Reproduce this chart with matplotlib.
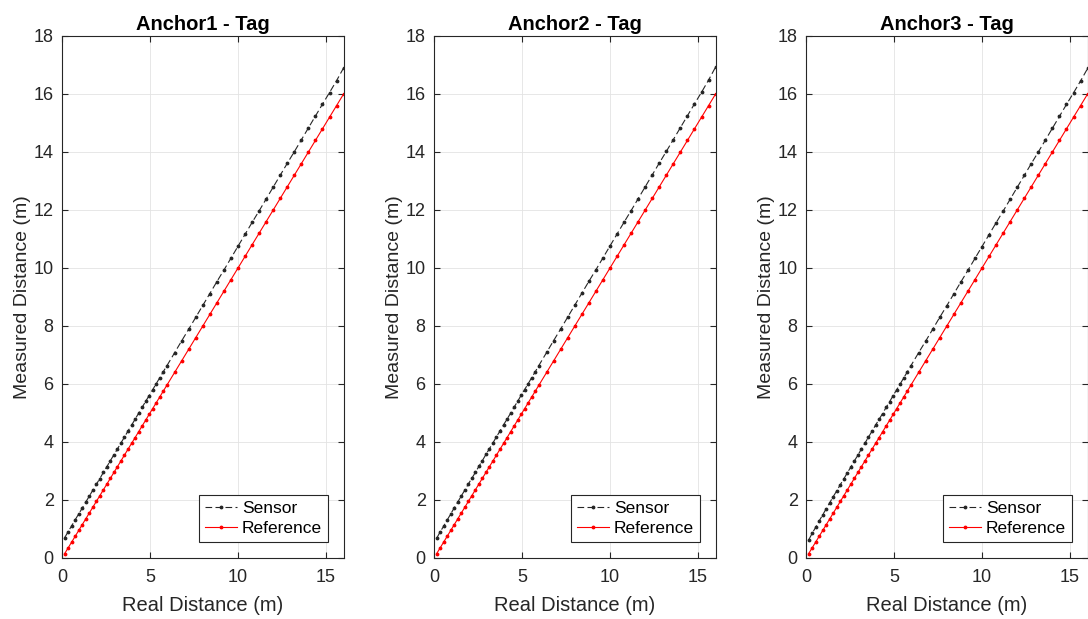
import matplotlib.pyplot as plt

plt.rcParams['font.family'] = ['Liberation Sans', 'DejaVu Sans']

# real distance (m) - dense steps up to ~6 m, then 0.4 m steps
real = [0.15, 0.35, 0.55, 0.75, 0.95, 1.15, 1.35, 1.55, 1.75, 1.95,
        2.15, 2.35, 2.55, 2.75, 2.95, 3.15, 3.35, 3.55, 3.75, 3.95,
        4.15, 4.35, 4.55, 4.75, 4.95, 5.15, 5.35, 5.55, 5.75, 5.95,
        6.4, 6.8, 7.2, 7.6, 8.0, 8.4, 8.8, 9.2, 9.6, 10.0,
        10.4, 10.8, 11.2, 11.6, 12.0, 12.4, 12.8, 13.2, 13.6, 14.0,
        14.4, 14.8, 15.2, 15.6, 16.0]

reference = list(real)

sensor1 = [0.70, 0.91, 1.11, 1.32, 1.52, 1.72, 1.93, 2.13, 2.34, 2.54,
           2.74, 2.95, 3.15, 3.36, 3.56, 3.76, 3.97, 4.17, 4.38, 4.58,
           4.78, 4.99, 5.19, 5.40, 5.60, 5.80, 6.01, 6.21, 6.42, 6.62,
           7.08, 7.49, 7.89, 8.30, 8.71, 9.12, 9.53, 9.93, 10.34, 10.75,
           11.16, 11.57, 11.97, 12.38, 12.79, 13.20, 13.61, 14.01, 14.42, 14.83,
           15.24, 15.65, 16.05, 16.46, 16.90]
sensor2 = [0.68, 0.90, 1.10, 1.31, 1.52, 1.73, 1.93, 2.14, 2.34, 2.55,
           2.75, 2.95, 3.16, 3.36, 3.57, 3.77, 3.97, 4.18, 4.38, 4.59,
           4.79, 4.99, 5.20, 5.40, 5.61, 5.81, 6.01, 6.22, 6.42, 6.63,
           7.09, 7.50, 7.90, 8.31, 8.72, 9.13, 9.54, 9.94, 10.35, 10.76,
           11.17, 11.58, 11.98, 12.39, 12.80, 13.21, 13.62, 14.02, 14.43, 14.84,
           15.25, 15.66, 16.06, 16.48, 16.93]
sensor3 = [0.62, 0.85, 1.06, 1.28, 1.49, 1.70, 1.91, 2.12, 2.32, 2.53,
           2.73, 2.94, 3.14, 3.35, 3.55, 3.76, 3.96, 4.17, 4.37, 4.58,
           4.78, 4.98, 5.19, 5.39, 5.60, 5.80, 6.00, 6.21, 6.41, 6.62,
           7.08, 7.48, 7.89, 8.30, 8.70, 9.11, 9.52, 9.92, 10.33, 10.74,
           11.15, 11.56, 11.96, 12.37, 12.78, 13.19, 13.60, 14.00, 14.41, 14.82,
           15.23, 15.64, 16.04, 16.45, 16.88]

titles = ['Anchor1 - Tag', 'Anchor2 - Tag', 'Anchor3 - Tag']
sensors = [sensor1, sensor2, sensor3]

fig = plt.figure(figsize=(10.88, 6.19), dpi=100)
lefts = [62 / 1088, 434 / 1088, 806 / 1088]
w = 281.6 / 1088
b = (619 - 558) / 619
h = 522 / 619

for left, title, sensor in zip(lefts, titles, sensors):
    ax = fig.add_axes([left, b, w, h])
    ax.plot(real, sensor, color='#262626', linestyle=(0, (6, 3)), linewidth=0.8,
            marker='.', markersize=3.5, label='Sensor')
    ax.plot(real, reference, color='red', linestyle='-', linewidth=0.8,
            marker='.', markersize=3.5, label='Reference')

    ax.set_xlim(0, 16)
    ax.set_ylim(0, 18)
    ax.set_xticks([0, 5, 10, 15])
    ax.set_yticks(range(0, 19, 2))
    ax.grid(True, color='#e3e3e3', linewidth=0.6)
    ax.set_axisbelow(True)
    ax.tick_params(direction='in', top=True, right=True, labelsize=13,
                   colors='#262626', length=4, width=0.8)
    ax.tick_params(axis='x', pad=8)
    ax.tick_params(axis='y', pad=6)
    for s in ax.spines.values():
        s.set_color('#262626')
        s.set_linewidth(0.8)

    ax.set_title(title, fontsize=14.5, fontweight='bold', pad=4)
    ax.set_xlabel('Real Distance (m)', fontsize=14.5, color='#262626', labelpad=7)
    ax.set_ylabel('Measured Distance (m)', fontsize=14, color='#262626', labelpad=2)

    leg = ax.legend(loc='lower right', fontsize=12.5, fancybox=False,
                    framealpha=1, edgecolor='#262626', borderpad=0.35,
                    handlelength=1.8, handletextpad=0.3, labelspacing=0.3,
                    borderaxespad=0.9)
    leg.get_frame().set_linewidth(0.8)

fig.savefig('out.png', dpi=100)
